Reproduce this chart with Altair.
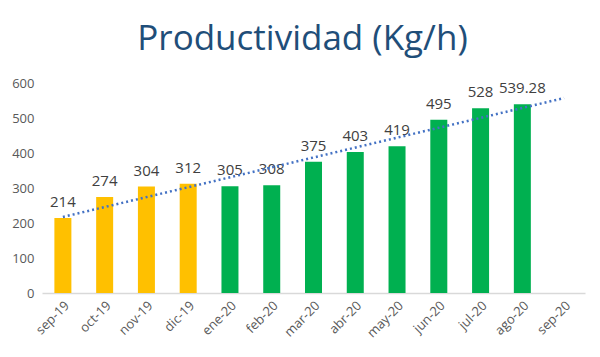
import altair as alt
import pandas as pd

months = ["sep-19", "oct-19", "nov-19", "dic-19", "ene-20", "feb-20", "mar-20",
          "abr-20", "may-20", "jun-20", "jul-20", "ago-20", "sep-20"]
bar_months = months[:12]
values = [214, 274, 304, 312, 305, 308, 375, 403, 419, 495, 528, 539.28]
labels = ["214", "274", "304", "312", "305", "308", "375", "403", "419", "495", "528", "539.28"]
groups = ["2019"] * 4 + ["2020"] * 8
y_ticks = [0, 100, 200, 300, 400, 500, 600]
trend_months = ["sep-19", "sep-20"]
trend_values = [217.3, 557.0]

bars_df = pd.DataFrame({"mes": bar_months, "valor": values, "etiqueta": labels, "grupo": groups})
trend_df = pd.DataFrame({"mes": trend_months, "valor": trend_values})

x_scale = alt.Scale(domain=months, paddingInner=0, paddingOuter=0)
x_axis = alt.Axis(title=None, labelAngle=-45, labelColor="#595959", labelFontSize=13,
                  labelFont="Open Sans", ticks=False, domainColor="#D9D9D9",
                  domainWidth=1.5, labelPadding=6, labelOverlap=False)
y_scale = alt.Scale(domain=[0, 600], nice=False)
y_axis = alt.Axis(title=None, values=y_ticks, grid=False, domain=False, ticks=False,
                  labelColor="#595959", labelFontSize=13, labelFont="Open Sans",
                  labelPadding=8, labelOverlap=False)

x_enc = alt.X("mes:N", sort=months, scale=x_scale, axis=x_axis)
y_enc = alt.Y("valor:Q", scale=y_scale, axis=y_axis)

bars = alt.Chart(bars_df).mark_bar(size=17).encode(
    x=x_enc,
    y=y_enc,
    color=alt.Color("grupo:N", scale=alt.Scale(domain=["2019", "2020"], range=["#FFC000", "#00B050"]),
                    legend=None),
)

text = alt.Chart(bars_df).mark_text(baseline="bottom", dy=-8, fontSize=15, color="#404040",
                                    font="Open Sans").encode(
    x=x_enc,
    y=y_enc,
    text="etiqueta:N",
)

trend = alt.Chart(trend_df).mark_line(color="#4472C4", strokeWidth=2.5, strokeDash=[2, 3]).encode(
    x=x_enc,
    y=y_enc,
)

chart = alt.layer(bars, text, trend).properties(
    width=543, height=210,
    title=alt.TitleParams("Productividad (Kg/h)", fontSize=35, font="Open Sans", fontWeight="normal",
                          color="#1F4E79", anchor="middle", offset=20, dx=-11),
    autosize=alt.AutoSizeParams(type="none"),
    padding={"left": 42, "top": 83, "right": 15, "bottom": 64},
).configure_view(stroke=None)

chart.save("out.html", embed_options={"renderer": "svg", "actions": False})
